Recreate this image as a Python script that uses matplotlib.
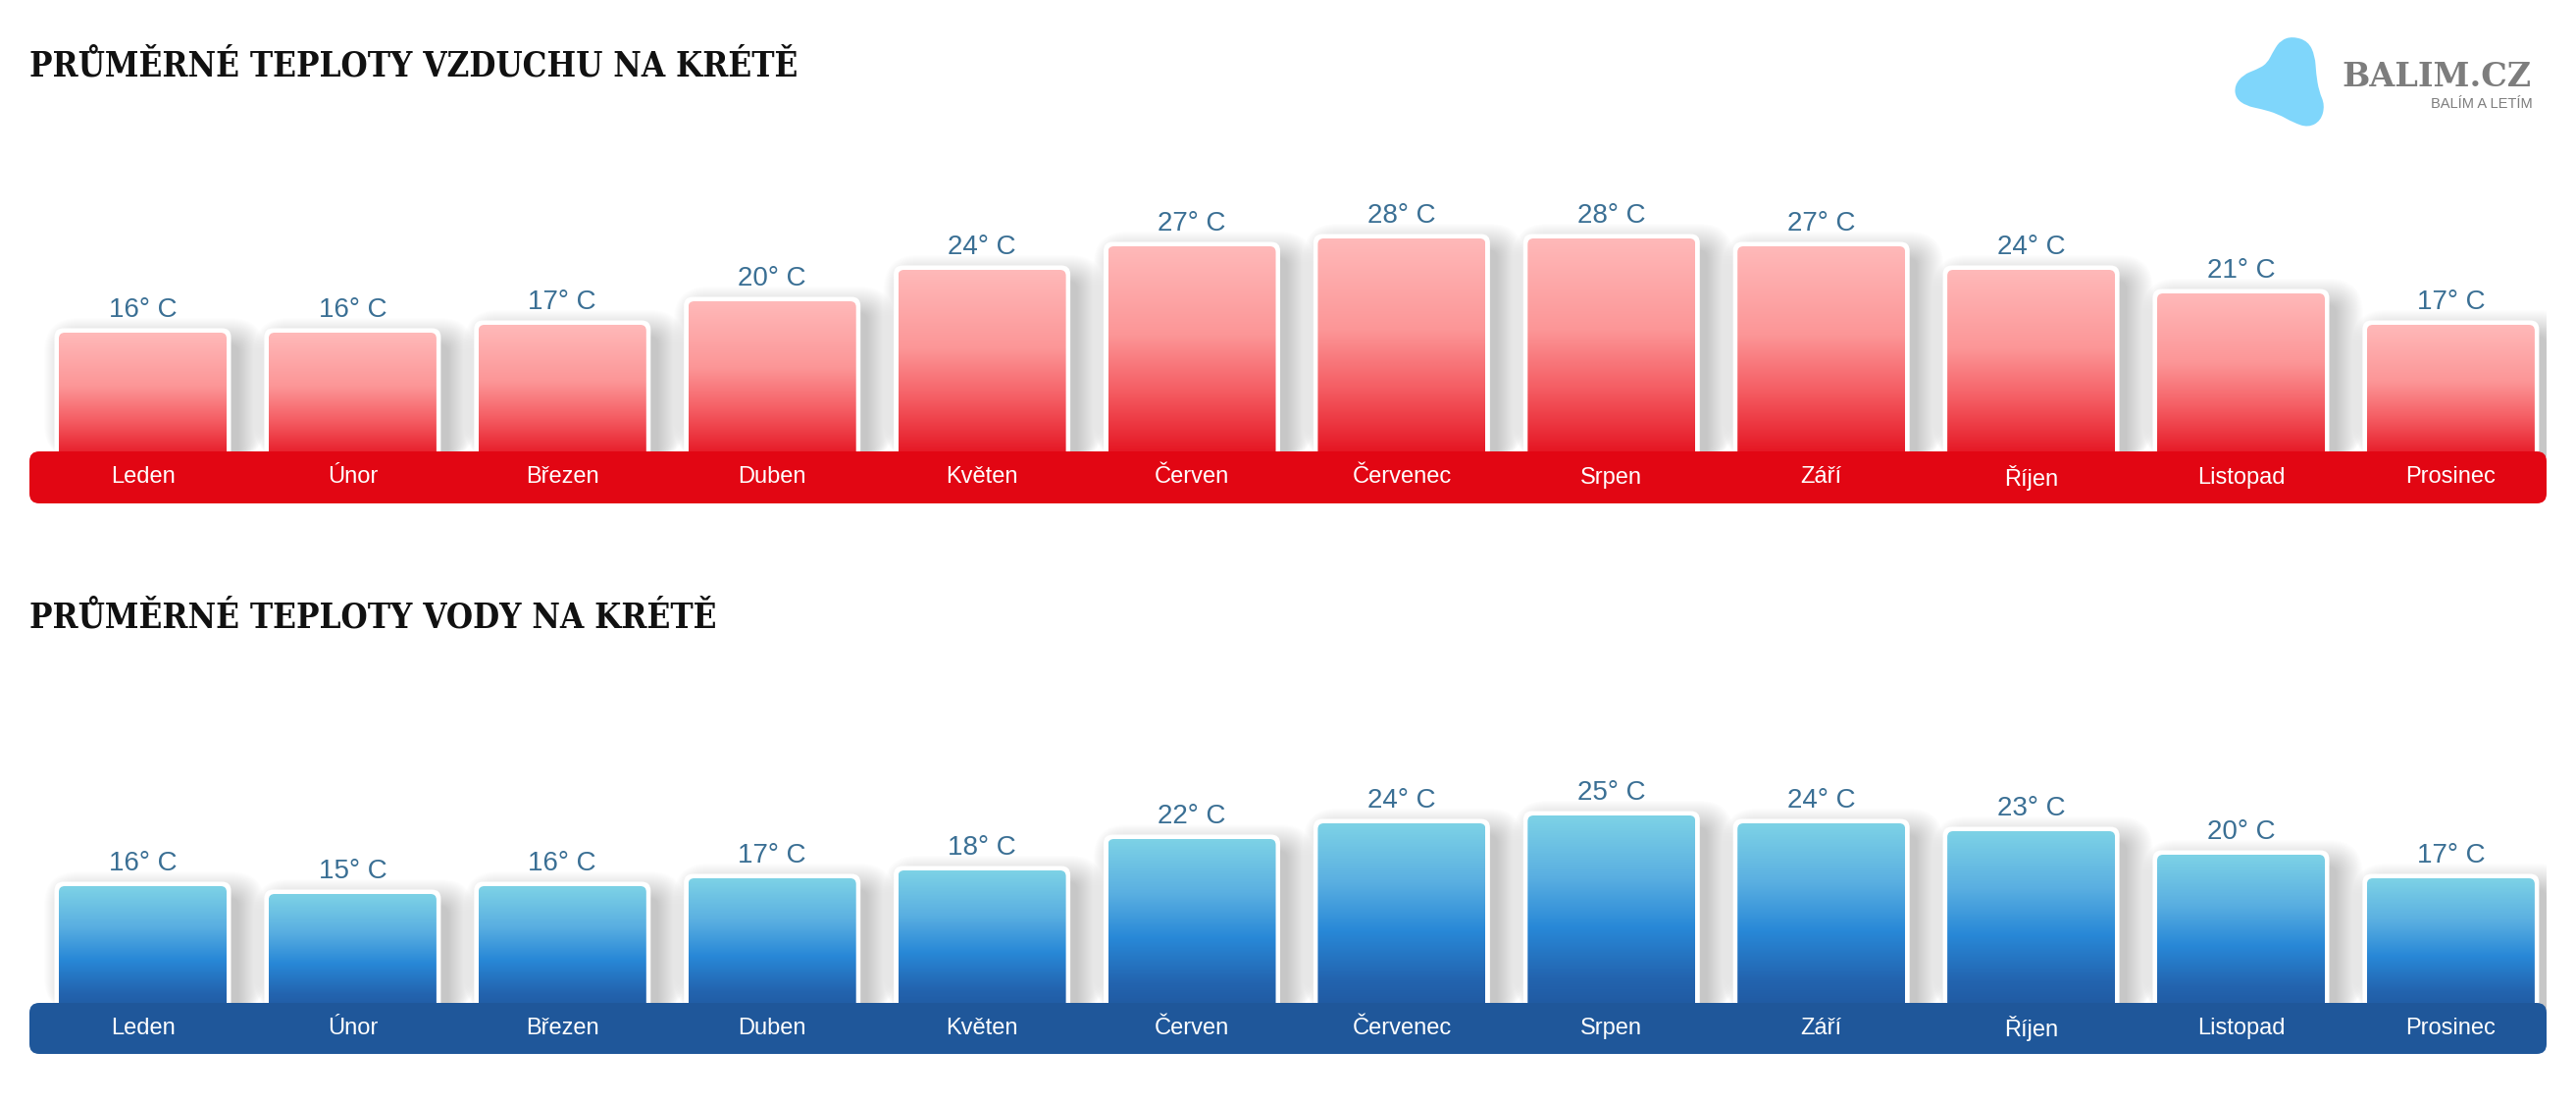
import numpy as np
import matplotlib.pyplot as plt
from matplotlib import font_manager
from matplotlib.patches import FancyBboxPatch, PathPatch
from matplotlib.colors import LinearSegmentedColormap
from matplotlib.path import Path

months = ["Leden", "Únor", "Březen", "Duben", "Květen", "Červen",
          "Červenec", "Srpen", "Září", "Říjen", "Listopad", "Prosinec"]
air_temps = [16, 16, 17, 20, 24, 27, 28, 28, 27, 24, 21, 17]
water_temps = [16, 15, 16, 17, 18, 22, 24, 25, 24, 23, 20, 17]

air_title = "PRŮMĚRNÉ TEPLOTY VZDUCHU NA KRÉTĚ"
water_title = "PRŮMĚRNÉ TEPLOTY VODY NA KRÉTĚ"

W, H = 2626, 1124
PX_X = 213.9   # pixels per month
PX_Y = 8.0     # pixels per degree

red_cmap = LinearSegmentedColormap.from_list("red", [
    (0.0, "#ffb9b9"), (0.4, "#fc9697"), (0.65, "#f55f65"),
    (0.85, "#ea2d38"), (1.0, "#e20614")])
blue_cmap = LinearSegmentedColormap.from_list("blue", [
    (0.0, "#7dd2e6"), (0.3, "#5aafe1"), (0.55, "#2888d7"),
    (0.8, "#2364af"), (1.0, "#1f559b")])

# condensed slab for the headings if the system has it
cond = [f.fname for f in font_manager.fontManager.ttflist
        if f.fname.endswith("DejaVuSerifCondensed-Bold.ttf")]
if cond:
    title_font = dict(fontproperties=font_manager.FontProperties(fname=cond[0], size=25))
else:
    title_font = dict(family="DejaVu Serif", fontweight="bold", fontsize=22.5)

fig = plt.figure(figsize=(W / 100, H / 100), dpi=100)
fig.patch.set_facecolor("white")


def px_axes(x0, y0, x1, y1):
    return fig.add_axes([x0 / W, 1 - y1 / H, (x1 - x0) / W, (y1 - y0) / H])


def draw_chart(ybot, ytop, base_px, strip_top, strip_bot, values, cmap, strip_color):
    ax = px_axes(30, ytop, 2596, ybot)
    x_left = (30 - 145.5) / PX_X
    x_right = (2596 - 145.5) / PX_X
    ax.set_xlim(x_left, x_right)
    ax.set_ylim(-(ybot - base_px) / PX_Y, (base_px - ytop) / PX_Y)
    ax.axis("off")
    asp = PX_X / PX_Y
    bw = 171 / PX_X
    grad = np.linspace(0, 1, 256).reshape(-1, 1)

    for i, v in enumerate(values):
        x0 = i - bw / 2
        # soft shadow, offset right and down
        for k in range(28):
            e = k / PX_X
            ey = k / PX_Y
            sh = FancyBboxPatch((x0 + 12 / PX_X - e, 0), bw + 2 * e, v - 12 / PX_Y + ey,
                                boxstyle="round,pad=0,rounding_size=%f" % (8 / PX_X + e),
                                mutation_aspect=asp, fc="#000000", ec="none",
                                alpha=0.0075, zorder=1)
            ax.add_patch(sh)
        # white border
        bd = 4.5
        border = FancyBboxPatch((x0 - bd / PX_X, 0), bw + 2 * bd / PX_X, v + bd / PX_Y,
                                boxstyle="round,pad=0,rounding_size=%f" % (9 / PX_X),
                                mutation_aspect=asp, fc="white", ec="none", zorder=2)
        ax.add_patch(border)
        inner = FancyBboxPatch((x0, 0), bw, v,
                               boxstyle="round,pad=0,rounding_size=%f" % (6 / PX_X),
                               mutation_aspect=asp, fc="none", ec="none", zorder=3)
        ax.add_patch(inner)
        im = ax.imshow(grad, cmap=cmap, aspect="auto", extent=(x0, x0 + bw, -1, v),
                       origin="upper", zorder=3, interpolation="bilinear")
        im.set_clip_path(inner)
        ax.text(i, v + 10 / PX_Y, "%d° C" % v, ha="center", va="bottom",
                fontsize=20, color="#3a6f94", family="Liberation Sans", zorder=5)

    s_top = (base_px - strip_top) / PX_Y
    s_bot = -(strip_bot - base_px) / PX_Y
    strip = FancyBboxPatch((x_left, s_bot), x_right - x_left, s_top - s_bot,
                           boxstyle="round,pad=0,rounding_size=%f" % (10 / PX_X),
                           mutation_aspect=asp, fc=strip_color, ec="none", zorder=4,
                           clip_on=False)
    ax.add_patch(strip)
    for i, m in enumerate(months):
        ax.text(i, (s_top + s_bot) / 2, m, ha="center", va="center", fontsize=17,
                color="white", family="Liberation Sans", zorder=6)
    return ax


draw_chart(535, 110, 467, 460, 513, air_temps, red_cmap, "#e20613")
draw_chart(1095, 700, 1031, 1022, 1074, water_temps, blue_cmap, "#1f579a")

# overlay for titles and logo, in pixel coordinates
ov = fig.add_axes([0, 0, 1, 1], zorder=10)
ov.set_xlim(0, W)
ov.set_ylim(H, 0)
ov.axis("off")
ov.patch.set_alpha(0)

ov.text(30, 78, air_title, ha="left", va="baseline", color="#111111", **title_font)
ov.text(30, 639, water_title, ha="left", va="baseline", color="#111111", **title_font)

# logo blob (smooth curve through outline control points)
ctrl = [(2337, 37), (2353, 42), (2360, 57), (2361, 75), (2364, 93), (2370, 107),
        (2366, 123), (2353, 130), (2338, 125), (2322, 116), (2305, 111), (2290, 108),
        (2279, 100), (2278, 87), (2287, 76), (2300, 71), (2311, 65), (2318, 51),
        (2325, 41)]
n = len(ctrl)
verts = [((ctrl[-1][0] + ctrl[0][0]) / 2, (ctrl[-1][1] + ctrl[0][1]) / 2)]
codes = [Path.MOVETO]
for j in range(n):
    p = ctrl[j]
    q = ctrl[(j + 1) % n]
    verts += [p, ((p[0] + q[0]) / 2, (p[1] + q[1]) / 2)]
    codes += [Path.CURVE3, Path.CURVE3]
ov.add_patch(PathPatch(Path(verts, codes), fc="#7fd6fb", ec="none"))

ov.text(2387, 88, "BALIM.CZ", ha="left", va="baseline", fontsize=24,
        family="DejaVu Serif", fontweight="bold", color="#7d7d7d")
ov.text(2582, 110, "BALÍM A LETÍM", ha="right", va="baseline", fontsize=10.5,
        family="Liberation Sans", color="#7d7d7d")

fig.savefig("out.png", dpi=100, facecolor="white")
